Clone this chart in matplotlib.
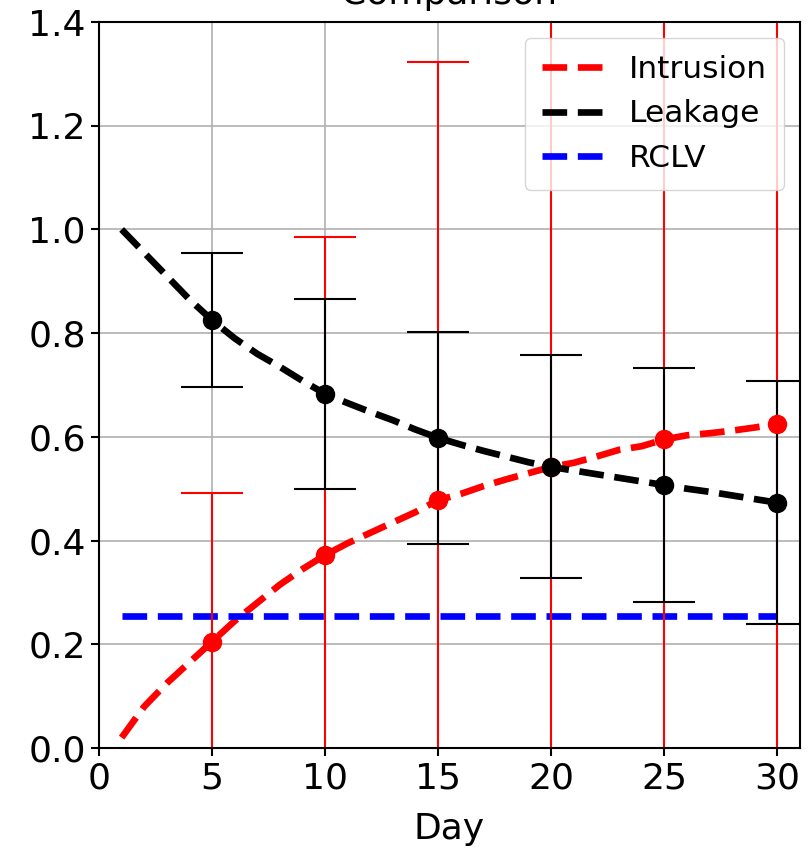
import numpy as np
import matplotlib
matplotlib.use('Agg')
import matplotlib.pyplot as plt

# daily mean fraction for each model
days = list(range(1, 31))
intrusion = [0.02, 0.08, 0.125, 0.165, 0.205, 0.245, 0.28, 0.315, 0.345, 0.372,
             0.395, 0.415, 0.435, 0.455, 0.478, 0.49, 0.505, 0.518, 0.53, 0.542,
             0.55, 0.562, 0.575, 0.582, 0.595, 0.603, 0.607, 0.612, 0.618, 0.625]
leakage = [1.0, 0.955, 0.91, 0.865, 0.825, 0.79, 0.76, 0.735, 0.708, 0.683,
           0.665, 0.648, 0.632, 0.614, 0.598, 0.585, 0.573, 0.562, 0.551, 0.542,
           0.535, 0.528, 0.521, 0.514, 0.507, 0.5, 0.494, 0.487, 0.48, 0.473]
rclv = 0.255

# standard deviations sampled every 5 days
err_days = [5, 10, 15, 20, 25, 30]
intrusion_err = [0.287, 0.613, 0.844, 1.05, 1.2, 1.3]
leakage_err = [0.129, 0.183, 0.204, 0.215, 0.225, 0.234]

intrusion_at = [intrusion[d - 1] for d in err_days]
leakage_at = [leakage[d - 1] for d in err_days]

fig = plt.figure(figsize=(8.11, 8.49), dpi=100)
ax = fig.add_axes([99 / 811, 101 / 849, 701 / 811, 726 / 849])

ax.plot(days, intrusion, '--', c='red', lw=4.8, label='Intrusion')
ax.plot(days, leakage, '--', c='black', lw=4.8, label='Leakage')
ax.plot(days, [rclv] * len(days), '--', c='blue', lw=4.8, label='RCLV')

ax.errorbar(err_days, intrusion_at, yerr=intrusion_err, fmt='o', c='red',
            ms=13, capsize=22, elinewidth=1.5, capthick=1.5)
ax.errorbar(err_days, leakage_at, yerr=leakage_err, fmt='o', c='black',
            ms=13, capsize=22, elinewidth=1.5, capthick=1.5)

ax.set_xlim(0, 31)
ax.set_ylim(0, 1.4)
ax.set_xticks([0, 5, 10, 15, 20, 25, 30])
ax.grid(True, lw=1.2)
ax.set_axisbelow(True)

ax.set_title('Comparison', fontsize=26, pad=13)
ax.set_xlabel('Day', fontsize=26, labelpad=12)
ax.tick_params(axis='both', which='major', labelsize=26, length=6, width=1.5)
for spine in ax.spines.values():
    spine.set_linewidth(1.5)

ax.legend(loc='upper right', fontsize=22.5, borderpad=0.55)

plt.savefig('out.png', dpi=100)
